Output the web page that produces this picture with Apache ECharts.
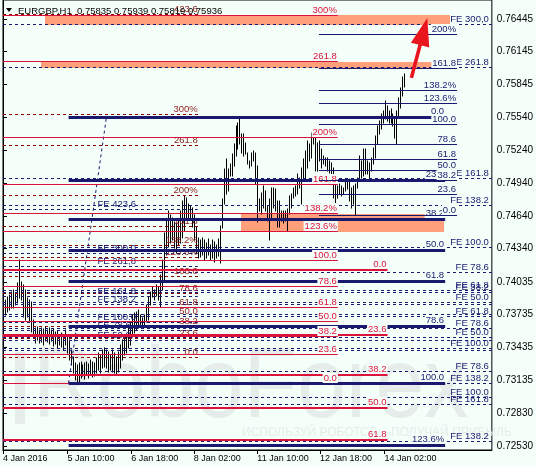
<!DOCTYPE html>
<html><head><meta charset="utf-8">
<script src="https://cdn.jsdelivr.net/npm/echarts@6/dist/echarts.min.js"></script>
<style>html,body{margin:0;padding:0;background:#F5FFFA}#c{width:536px;height:467px}</style>
</head><body><div id="c"></div>
<script>
// ---------------- DATA ----------------
const titleText = 'EURGBP,H1  0.75835 0.75939 0.75819 0.75936';
const lastClose = 0.75936;

const barHigh = [
0.73655,0.73865,0.73892,0.73911,0.73938,0.73956,0.73929,0.74021,0.74231,0.74030,
0.74002,0.73956,0.73883,0.73865,0.73847,0.73682,0.73609,0.73618,0.73590,0.73609,
0.73600,0.73618,0.73590,0.73609,0.73590,0.73600,0.73572,0.73581,0.73545,0.73563,
0.73545,0.73590,0.73526,0.73499,0.73407,0.73343,0.73289,0.73270,0.73289,0.73298,
0.73270,0.73289,0.73298,0.73279,0.73316,0.73298,0.73289,0.73334,0.73380,0.73362,
0.73407,0.73426,0.73407,0.73389,0.73362,0.73407,0.73380,0.73343,0.73389,0.73453,
0.73499,0.73526,0.73545,0.73636,0.73664,0.73728,0.73746,0.73755,0.73773,0.73728,
0.73700,0.73728,0.73819,0.73892,0.73938,0.73984,0.73956,0.74002,0.73984,0.74094,
0.74231,0.74478,0.74597,0.74688,0.74643,0.74624,0.74579,0.74570,0.74615,0.74688,
0.74780,0.74826,0.74807,0.74753,0.74734,0.74716,0.74643,0.74533,0.74441,0.74414,
0.74441,0.74414,0.74387,0.74432,0.74368,0.74414,0.74396,0.74368,0.74432,0.74551,
0.74798,0.75073,0.75164,0.75073,0.75119,0.75210,0.75302,0.75466,0.75494,0.75539,
0.75393,0.75393,0.75311,0.75219,0.75146,0.75219,0.75237,0.75219,0.75100,0.74798,
0.74853,0.74917,0.74871,0.74734,0.74798,0.74899,0.74899,0.74890,0.74780,0.74780,
0.74688,0.74688,0.74688,0.74707,0.74826,0.74844,0.74899,0.74917,0.75027,0.74990,
0.75082,0.75164,0.75237,0.75329,0.75302,0.75402,0.75448,0.75375,0.75311,0.75329,
0.75256,0.75192,0.75173,0.75173,0.75146,0.75128,0.75082,0.74945,0.74917,0.74935,
0.74917,0.74899,0.74963,0.74981,0.74981,0.74899,0.74917,0.74935,0.74990,0.75192,
0.75146,0.75256,0.75256,0.75146,0.75128,0.75173,0.75265,0.75375,0.75466,0.75512,
0.75576,0.75603,0.75695,0.75649,0.75603,0.75622,0.75576,0.75539,0.75603,0.75722,
0.75814,0.75915,0.75939];
const barLow = [
0.73563,0.73728,0.73755,0.73773,0.73792,0.73792,0.73819,0.73838,0.73883,0.73865,
0.73709,0.73682,0.73709,0.73664,0.73572,0.73517,0.73472,0.73499,0.73472,0.73481,
0.73453,0.73490,0.73481,0.73462,0.73490,0.73444,0.73462,0.73426,0.73453,0.73435,
0.73407,0.73453,0.73380,0.73316,0.73270,0.73197,0.73133,0.73115,0.73106,0.73151,
0.73170,0.73142,0.73179,0.73151,0.73188,0.73160,0.73170,0.73197,0.73224,0.73197,
0.73243,0.73252,0.73243,0.73206,0.73224,0.73206,0.73197,0.73179,0.73206,0.73243,
0.73316,0.73362,0.73380,0.73426,0.73453,0.73526,0.73563,0.73590,0.73609,0.73636,
0.73609,0.73627,0.73664,0.73682,0.73819,0.73892,0.73865,0.73902,0.73865,0.73801,
0.73956,0.74048,0.74277,0.74350,0.74387,0.74414,0.74341,0.74295,0.74368,0.74387,
0.74441,0.74505,0.74624,0.74624,0.74624,0.74533,0.74414,0.74295,0.74249,0.74258,
0.74277,0.74231,0.74249,0.74277,0.74231,0.74249,0.74213,0.74249,0.74268,0.74204,
0.74524,0.74753,0.74844,0.74871,0.75009,0.75009,0.75100,0.75192,0.75256,0.75302,
0.75219,0.75192,0.75210,0.75119,0.75082,0.75100,0.75146,0.74935,0.74579,0.74688,
0.74661,0.74716,0.74688,0.74597,0.74414,0.74624,0.74716,0.74688,0.74533,0.74533,
0.74597,0.74570,0.74597,0.74505,0.74661,0.74716,0.74807,0.74826,0.74844,0.74899,
0.74753,0.74963,0.74990,0.75082,0.75146,0.75173,0.75302,0.75054,0.75054,0.75146,
0.75082,0.75119,0.75100,0.75054,0.75036,0.74990,0.74807,0.74716,0.74807,0.74844,
0.74826,0.74844,0.74871,0.74890,0.74780,0.74716,0.74753,0.74643,0.74899,0.74963,
0.74990,0.75009,0.75027,0.75027,0.74981,0.75054,0.75119,0.75173,0.75302,0.75393,
0.75439,0.75494,0.75530,0.75512,0.75494,0.75494,0.75466,0.75356,0.75302,0.75558,
0.75631,0.75741,0.75819];

const xTickIndex = [0, 32.5, 64.5, 96, 128, 159.5, 192];
const xTickLabels = ['4 Jan 2016','5 Jan 10:00','6 Jan 18:00','8 Jan 02:00','11 Jan 10:00','12 Jan 18:00','14 Jan 02:00'];
const yTickValues = [0.76445,0.76145,0.75845,0.75540,0.75240,0.74940,0.74640,0.74340,0.74035,0.73735,0.73435,0.73135,0.72830,0.72530];

// Fibonacci retracement (thin crimson), bar span 0..168.5
const redFibSpan = [0, 168.5];
const redFibPrices = [0.73106,0.73372,0.73536,0.73669,0.73801,0.73990,0.74231,0.74497,0.74661,0.74926,0.75356,0.76051,0.76481];
const redFibLabels = ['0.0','23.6','38.2','50.0','61.8','78.6','100.0','123.6%','138.2%','161.8','200%','261.8','300%'];
// Fibonacci (thick crimson)
const redThickSpan = [0, 193.5];
const redThickPrices = [0.74139,0.73545,0.73178,0.72881,0.72584];
const redThickLabels = ['0.0','23.6','38.2','50.0','61.8'];
// Fibonacci (thick navy)
const navyFibSpan = [33, 222.5];
const navyFibPrices = [0.75539,0.74965,0.74610,0.74322,0.74035,0.73627,0.73106,0.72532];
const navyFibLabels = ['0.0','23.6','38.2','50.0','61.8','78.6','100.0','123.6%'];
// Fibonacci (thin navy, right)
const rightFibSpan = [159, 228.5];
const rightFibPrices = [0.74643,0.74839,0.74961,0.75059,0.75157,0.75297,0.75475,0.75671,0.75793,0.75989,0.76307];
const rightFibLabels = ['0.0','23.6','38.2','50.0','61.8','78.6','100.0','123.6%','138.2%','161.8','200%'];
// Fibonacci (dashed maroon, left)
const maroonFibSpan = [0, 98.5];
const maroonFibPrices = [0.73343,0.73518,0.73626,0.73714,0.73802,0.73926,0.74085,0.74260,0.74368,0.74544,0.74827,0.75286,0.75569,0.76486];
const maroonFibLabels = ['0.0','23.6','38.2','50.0','61.8','78.6','100.0','123.6%','138.2%','161.8','200%','261.8','300%','423.6'];
// Fibonacci expansions (dashed navy)
const feRightSpan = [0, 246];
const feRightPrices = [0.76390,0.75997,0.74981,0.74734,0.74350,0.74121,0.73956,0.73938,0.73847,0.73828,0.73737,0.73719,0.73609,0.73526,0.73499,0.73426,0.73407,0.73215,0.73106,0.72977,0.72913,0.72566];
const feRightLabels = ['FE 300,0','FE 261.8','FE 161.8','FE 138.2','FE 100.0','FE 78.6','FE 61.8','FE 38.2','FE 50.0','','','FE 61.8','FE 78.6','FE 50.0','','FE 100.0','','FE 78.6','FE 138.2','FE 100.0','FE 161.8','FE 138.2'];
const feLeftSpan = [0, 98];
const feLeftPrices = [0.74698,0.74295,0.74176,0.73902,0.73828,0.73664,0.73590,0.73499];
const feLeftLabels = ['FE 423,6','FE 300,0','FE 261,8','FE 161.8','FE 138.2','FE 100.0','FE 78.6','FE 50.0'];
// Zones [startBar, endBar, lowPrice, highPrice]
const zones = [[21, 225, 0.76390, 0.76481],[19, 216.5, 0.75997, 0.76051],[120, 222, 0.74497, 0.74661]];
// Trend line & arrow [bar, price]
const trendFrom = [33, 0.73106], trendTo = [52, 0.75539];
const arrowFrom = [205.5, 0.75905], arrowTo = [213.5, 0.76454];

// ---------------- RENDER ----------------
const FONT = '"Liberation Sans", Arial, sans-serif';
const LABEL_FONT = '9.5px ' + FONT;
const BG = '#F5FFFA';
function crisp(v, w) { return (Math.round(w) % 2 === 1) ? Math.floor(v) + 0.5 : Math.round(v); }

const ST = {
  maroon:   { color:'#8b0000', width:1, dash:[3,3], labelColor:'#8b1a1a', z:3 },
  feRight:  { color:'#191970', width:1, dash:[3,3], labelColor:'#191970', labelInset:2, z:3 },
  feLeft:   { color:'#191970', width:1, dash:[3,3], labelColor:'#191970', labelAt:47, labelAlign:'left', z:3 },
  redThin:  { color:'#dc143c', width:1, labelColor:'#dc143c', labelBg:BG, z:4 },
  redThick: { color:'#dc143c', width:2, labelColor:'#dc143c', labelBg:BG, z:4 },
  navyThick:{ color:'#191970', width:3, labelColor:'#191970', labelBg:BG, z:4 },
  rightFib: { color:'#191970', width:1, labelColor:'#191970', labelBg:BG, z:5 }
};

function levelSeries(name, prices, labels, span, st) {
  return {
    type:'custom', name, z:st.z, silent:true, clip:true,
    data: prices.map(p => [span[0], span[1], p]),
    encode:{ x:[0,1], y:2 },
    renderItem: function (params, api) {
      const a = api.coord([api.value(0), api.value(2)]);
      const b = api.coord([api.value(1), api.value(2)]);
      const y = crisp(a[1], st.width);
      const kids = [{ type:'line', shape:{ x1:a[0], y1:y, x2:b[0], y2:y },
        style:{ stroke:st.color, lineWidth:st.width, lineDash:st.dash || null } }];
      const txt = labels[params.dataIndex];
      if (txt) {
        const lx = st.labelAt != null ? api.coord([st.labelAt, api.value(2)])[0] : b[0] - (st.labelInset || 0);
        kids.push({ type:'text', x:lx, y:Math.floor(y - st.width / 2), z2:10,
          style:{ text:txt, fill:st.labelColor, font:LABEL_FONT, align:st.labelAlign || 'right',
            verticalAlign:'bottom', backgroundColor:st.labelBg || 'transparent', padding:[0,1,0,1] } });
      }
      return { type:'group', children:kids };
    }
  };
}

const chart = echarts.init(document.getElementById('c'), null, { renderer:'canvas', width:536, height:467 });

const option = {
  backgroundColor: BG,
  animation: false,
  grid: { left:3, right:41, top:-1, bottom:17, show:true, borderColor:'#000', borderWidth:1, backgroundColor:'transparent' },
  xAxis: {
    type:'value', min:0, max:246,
    axisLine:{ show:true, lineStyle:{ color:'#000' } },
    splitLine:{ show:false },
    axisTick:{ show:true, customValues:xTickIndex, length:4, lineStyle:{ color:'#000' } },
    axisLabel:{ customValues:xTickIndex, formatter: v => { const k = xTickIndex.indexOf(v); return k >= 0 ? xTickLabels[k] : ''; },
      align:'left', margin:4, color:'#000', fontSize:9, fontFamily:FONT }
  },
  yAxis: {
    type:'value', position:'right', min:0.724925, max:0.766192, scale:true,
    axisLine:{ show:true, lineStyle:{ color:'#000' } },
    splitLine:{ show:false },
    axisTick:{ show:true, customValues:yTickValues, length:4, lineStyle:{ color:'#000' } },
    axisLabel:{ customValues:yTickValues, formatter: v => v.toFixed(5), margin:5, color:'#000', fontSize:10, fontFamily:FONT }
  },
  graphic: [
    { type:'rect', z:0, silent:true, shape:{ x:15, y:352, width:10, height:72 }, style:{ fill:'#e6ece9' } },
    { type:'text', z:0, silent:true, x:33, y:389, scaleX:0.88, style:{ text:'RoboForex', font:'100px ' + FONT, fill:'#e6ece9', verticalAlign:'middle' } },
    { type:'text', z:0, silent:true, x:242, y:433, style:{ text:'ИСПОЛЬЗУЙ РОБОТОВ – ПОЛУЧАЙ ПРИБЫЛЬ', font:'12px ' + FONT, fill:'#e6ece9', verticalAlign:'middle' } },
    { type:'polygon', z:100, silent:true, shape:{ points:[[6,8],[12,8],[9,12]] }, style:{ fill:'#000' } },
    { type:'text', z:100, silent:true, x:18, y:11, style:{ text:titleText, font:'9.5px ' + FONT, fill:'#000', verticalAlign:'middle' } }
  ],
  series: [
    { type:'custom', name:'zones', z:1, silent:true, clip:true,
      data: zones, encode:{ x:[0,1], y:[2,3] },
      renderItem: (params, api) => {
        const p1 = api.coord([api.value(0), api.value(3)]);
        const p2 = api.coord([api.value(1), api.value(2)]);
        return { type:'rect', shape:{ x:Math.round(p1[0]), y:Math.round(p1[1]), width:Math.round(p2[0]-p1[0]), height:Math.round(p2[1]-p1[1]) }, style:{ fill:'#FFA07A' } };
      } },
    { type:'custom', name:'bars', z:2, silent:true, clip:true,
      data: barHigh.map((h, i) => [i, barLow[i], h]), encode:{ x:0, y:[1,2] },
      renderItem: (params, api) => {
        const lo = api.coord([api.value(0), api.value(1)]);
        const hi = api.coord([api.value(0), api.value(2)]);
        const x = Math.round(lo[0]) + 0.5;
        return { type:'line', shape:{ x1:x, y1:Math.round(lo[1]) + 0.5, x2:x, y2:Math.round(hi[1]) - 0.5 }, style:{ stroke:'#000', lineWidth:1 } };
      },
      markLine: { silent:true, symbol:'none', animation:false, data:[{ yAxis:lastClose }],
        lineStyle:{ opacity:0 },
        label:{ show:true, position:'end', distance:1, formatter:lastClose.toFixed(5), color:'#fff', backgroundColor:'#000',
          padding:[2,3,1,3], fontSize:10, fontFamily:FONT } } },
    levelSeries('maroonFib', maroonFibPrices, maroonFibLabels, maroonFibSpan, ST.maroon),
    levelSeries('feLeft', feLeftPrices, feLeftLabels, feLeftSpan, ST.feLeft),
    levelSeries('feRight', feRightPrices, feRightLabels, feRightSpan, ST.feRight),
    levelSeries('redFib', redFibPrices, redFibLabels, redFibSpan, ST.redThin),
    levelSeries('redThick', redThickPrices, redThickLabels, redThickSpan, ST.redThick),
    levelSeries('navyFib', navyFibPrices, navyFibLabels, navyFibSpan, ST.navyThick),
    levelSeries('rightFib', rightFibPrices, rightFibLabels, rightFibSpan, ST.rightFib),
    { type:'custom', name:'trend', z:3, silent:true, clip:true,
      data:[[trendFrom[0], trendFrom[1], trendTo[0], trendTo[1]]], encode:{ x:[0,2], y:[1,3] },
      renderItem: (params, api) => {
        const a = api.coord([api.value(0), api.value(1)]);
        const b = api.coord([api.value(2), api.value(3)]);
        return { type:'line', shape:{ x1:a[0], y1:a[1], x2:b[0], y2:b[1] }, style:{ stroke:'#191970', lineWidth:1, lineDash:[3,3] } };
      } },
    { type:'custom', name:'arrow', z:6, silent:true, clip:false,
      data:[[arrowFrom[0], arrowFrom[1], arrowTo[0], arrowTo[1]]], encode:{ x:[0,2], y:[1,3] },
      renderItem: (params, api) => {
        const t = api.coord([api.value(0), api.value(1)]);
        const h = api.coord([api.value(2), api.value(3)]);
        const dx = h[0]-t[0], dy = h[1]-t[1], len = Math.hypot(dx, dy);
        const ux = dx/len, uy = dy/len, nx = -uy, ny = ux;
        const L = 28, W = 9.5, S = 1.8;
        const bx = h[0]-ux*L, by = h[1]-uy*L;
        const pts = [[t[0]+nx*S,t[1]+ny*S],[bx+nx*S,by+ny*S],[bx+nx*W,by+ny*W],[h[0],h[1]],[bx-nx*W,by-ny*W],[bx-nx*S,by-ny*S],[t[0]-nx*S,t[1]-ny*S]];
        return { type:'polygon', shape:{ points:pts }, style:{ fill:'#e8141e' } };
      } }
  ]
};
chart.setOption(option);
</script></body></html>
